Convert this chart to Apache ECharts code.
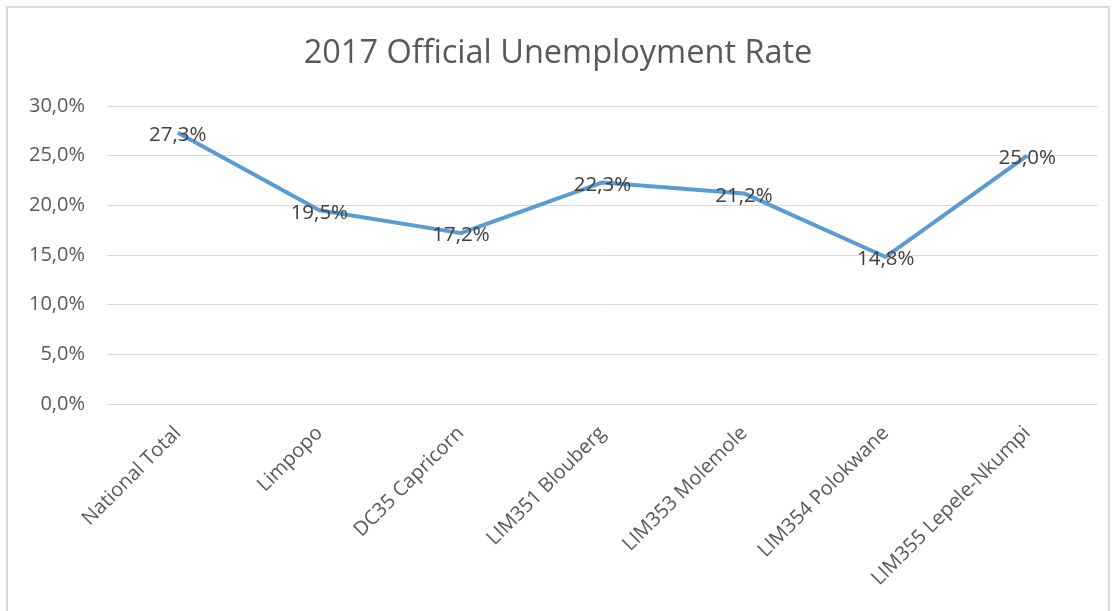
<!DOCTYPE html>
<html>
<head>
<meta charset="utf-8">
<script src="https://cdn.jsdelivr.net/npm/echarts@6/dist/echarts.min.js"></script>
<style>
html,body{margin:0;padding:0;background:#fff;}
#frame{position:absolute;left:6px;top:6px;width:1104px;height:620px;border:2px solid #d9d9d9;box-sizing:border-box;}
#chart{position:absolute;left:0;top:0;width:1116px;height:611px;}
</style>
</head>
<body>
<div id="frame"></div>
<div id="chart"></div>
<script>
const categories = ["National Total","Limpopo","DC35 Capricorn","LIM351 Blouberg","LIM353 Molemole","LIM354 Polokwane","LIM355 Lepele-Nkumpi"];
const rates = [27.3, 19.5, 17.2, 22.3, 21.2, 14.8, 25.0];
const titleText = "2017 Official Unemployment Rate";

const fmt = v => v.toFixed(1).replace('.', ',') + '%';
const chart = echarts.init(document.getElementById('chart'), null, {renderer:'canvas'});
chart.setOption({
  backgroundColor: 'transparent',
  animation: false,
  title: {
    text: titleText, left: 'center', top: 32,
    textStyle: {fontFamily: 'Open Sans', fontSize: 32.5, fontWeight: 'normal', color: '#595959'}
  },
  grid: {left: 107, right: 18, top: 106, bottom: 207, containLabel: false},
  xAxis: {
    type: 'category', data: categories, boundaryGap: true,
    axisLine: {show: false}, axisTick: {show: false},
    axisLabel: {rotate: 45, interval: 0, margin: 26, fontFamily: 'Open Sans', fontSize: 20, color: '#595959'}
  },
  yAxis: {
    type: 'value', min: 0, max: 30, interval: 5,
    axisLine: {show: false}, axisTick: {show: false},
    splitLine: {lineStyle: {color: '#d9d9d9', width: 1}},
    axisLabel: {formatter: v => fmt(v), margin: 22, fontFamily: 'Open Sans', fontSize: 20, color: '#595959'}
  },
  series: [{
    type: 'line', data: rates, symbol: 'circle', symbolSize: 0, showSymbol: true,
    itemStyle: {color: '#5B9BD5'},
    lineStyle: {color: '#5B9BD5', width: 4},
    label: {show: true, position: 'top', distance: 0, offset: [0, 13], formatter: p => fmt(p.value),
      fontFamily: 'Open Sans', fontSize: 20.5, color: '#404040'}
  }]
});
</script>
</body>
</html>
